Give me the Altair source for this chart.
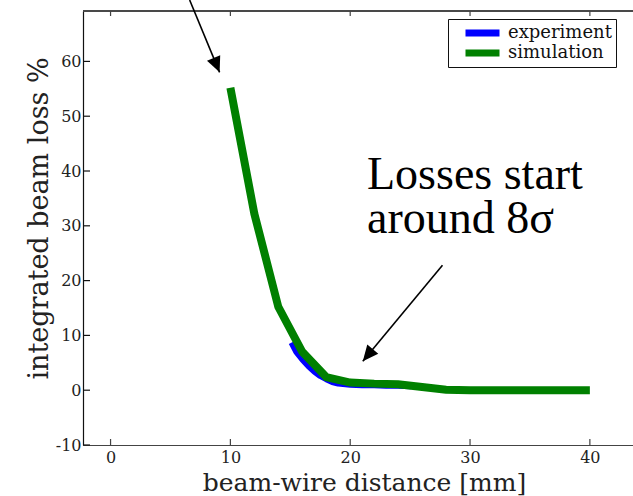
import altair as alt
import pandas as pd

# Measured beam loss versus beam-wire distance
exp_x = [15.1, 15.5, 16.0, 16.5, 17.0, 17.5, 18.0, 18.5, 19.0, 20.0, 21.0, 22.0, 23.0, 24.0, 25.1]
exp_y = [8.7, 7.0, 5.6, 4.4, 3.4, 2.6, 2.0, 1.5, 1.2, 1.0, 0.9, 0.9, 0.8, 0.8, 0.7]

# Simulated beam loss
sim_x = [10, 12, 14, 16, 18, 20, 22, 24, 26, 28, 30, 35, 40]
sim_y = [55.2, 32.2, 15.2, 7.0, 2.4, 1.4, 1.2, 1.1, 0.6, 0.1, 0.0, 0.0, 0.0]

series_names = ["experiment", "simulation"]
series_colors = ["#0000ff", "#008000"]

x_ticks = [0, 10, 20, 30, 40]
y_ticks = [-10, 0, 10, 20, 30, 40, 50, 60]

# Annotation arrows: tail and tip in data units, head rotation in degrees
arrow_x = [6.6, 27.7]
arrow_y = [71.2, 22.8]
arrow_x2 = [9.1, 21.05]
arrow_y2 = [58.0, 5.3]
arrow_angle = [157.4, 219.8]

note_text_value = "Losses start\naround 8σ"
note_x = [21.4]
note_y = [36.7]

W, H = 550, 434
X_DOMAIN = [-2.3, 43.6]
Y_DOMAIN = [-10, 69.2]
SERIF = "DejaVu Serif"
HYPHEN_MINUS = "replace(datum.label, '\u2212', '-')"

lines = pd.DataFrame(
    {"x": exp_x + sim_x,
     "y": exp_y + sim_y,
     "series": ["experiment"] * len(exp_x) + ["simulation"] * len(sim_x)}
)
arrows = pd.DataFrame({"x": arrow_x, "y": arrow_y, "x2": arrow_x2, "y2": arrow_y2, "ang": arrow_angle})
notes = pd.DataFrame({"x": note_x, "y": note_y, "text": [note_text_value]})
xt = pd.DataFrame({"t": x_ticks})
yt = pd.DataFrame({"t": y_ticks})

xscale = alt.Scale(domain=X_DOMAIN, nice=False, zero=False)
yscale = alt.Scale(domain=Y_DOMAIN, nice=False, zero=False)

x_enc = alt.X(
    "x:Q", scale=xscale,
    axis=alt.Axis(
        title="beam-wire distance [mm]", values=x_ticks, ticks=False, grid=False,
        labelFont=SERIF, labelFontSize=16, labelColor="#222", labelPadding=4,
        titleFont=SERIF, titleFontSize=25, titleFontWeight="normal", titleColor="#222",
        titleBaseline="alphabetic", titleX=281, titleY=45, titleAnchor="middle",
        domainColor="#444", domainWidth=1.2,
    ),
)
y_enc = alt.Y(
    "y:Q", scale=yscale,
    axis=alt.Axis(
        title="integrated beam loss %", values=y_ticks, ticks=False, grid=False,
        labelFont=SERIF, labelFontSize=16, labelColor="#222", labelPadding=2,
        labelExpr=HYPHEN_MINUS,
        titleFont=SERIF, titleFontSize=27, titleFontWeight="normal", titleColor="#222",
        titleBaseline="alphabetic", titleX=-36, titleY=207, titleAngle=-90,
        domainColor="#111", domainWidth=1.2,
    ),
)

color = alt.Color(
    "series:N",
    scale=alt.Scale(domain=series_names, range=series_colors),
    legend=alt.Legend(
        title=None, orient="none", legendX=365, legendY=8,
        symbolType="M-2.5,0H2.5", symbolSize=185, symbolStrokeWidth=7,
        labelFont=SERIF, labelFontSize=18, labelColor="#111",
        symbolOffset=20, labelOffset=15, rowPadding=0, padding=4, clipHeight=20,
        strokeColor="#111", fillColor="white",
    ),
)

exp_line = alt.Chart(lines).transform_filter(alt.datum.series == "experiment").mark_line(
    strokeWidth=6, strokeCap="butt", strokeJoin="round"
).encode(x=x_enc, y=y_enc, color=color, order="x:Q")

sim_line = alt.Chart(lines).transform_filter(alt.datum.series == "simulation").mark_line(
    strokeWidth=8, strokeCap="butt", strokeJoin="miter"
).encode(x="x:Q", y="y:Q", color=color, order="x:Q")

# inward tick marks on bottom, top and left edges
tick_bottom = alt.Chart(xt).mark_rule(color="#444", strokeWidth=1.2).encode(
    x="t:Q", y=alt.value(H - 6), y2=alt.value(H)
)
tick_top = alt.Chart(xt).mark_rule(color="#444", strokeWidth=1.2).encode(
    x="t:Q", y=alt.value(0), y2=alt.value(5)
)
tick_left = alt.Chart(yt).mark_rule(color="#111", strokeWidth=1.2).encode(
    y="t:Q", x=alt.value(0), x2=alt.value(7)
)
top_edge = alt.Chart(xt).mark_rule(color="#444", strokeWidth=1.2).encode(
    x=alt.value(0), x2=alt.value(W), y=alt.value(0)
)

arrow_shaft = alt.Chart(arrows).mark_rule(color="black", strokeWidth=1.6).encode(
    x="x:Q", y="y:Q", x2="x2:Q", y2="y2:Q"
)
arrow_head = alt.Chart(arrows).mark_point(
    shape="M0,0L-0.55,1.2L0.55,1.2Z", filled=True, color="black", opacity=1, size=676
).encode(x="x2:Q", y="y2:Q", angle=alt.Angle("ang:Q", scale=None))

note_text = alt.Chart(notes).mark_text(
    align="left", baseline="alphabetic", font="Liberation Serif", fontSize=46,
    lineBreak="\n", lineHeight=44, color="black"
).encode(x="x:Q", y="y:Q", text="text:N")

chart = alt.layer(
    top_edge, tick_bottom, tick_top, tick_left,
    exp_line, sim_line, arrow_shaft, arrow_head, note_text,
).properties(
    width=W, height=H,
    padding={"left": 83, "top": 11, "right": 0, "bottom": 51},
    autosize=alt.AutoSizeParams(type="none"),
    background="white",
).configure_view(stroke=None)

chart.save("out.html", embed_options={"renderer": "svg", "actions": False})
